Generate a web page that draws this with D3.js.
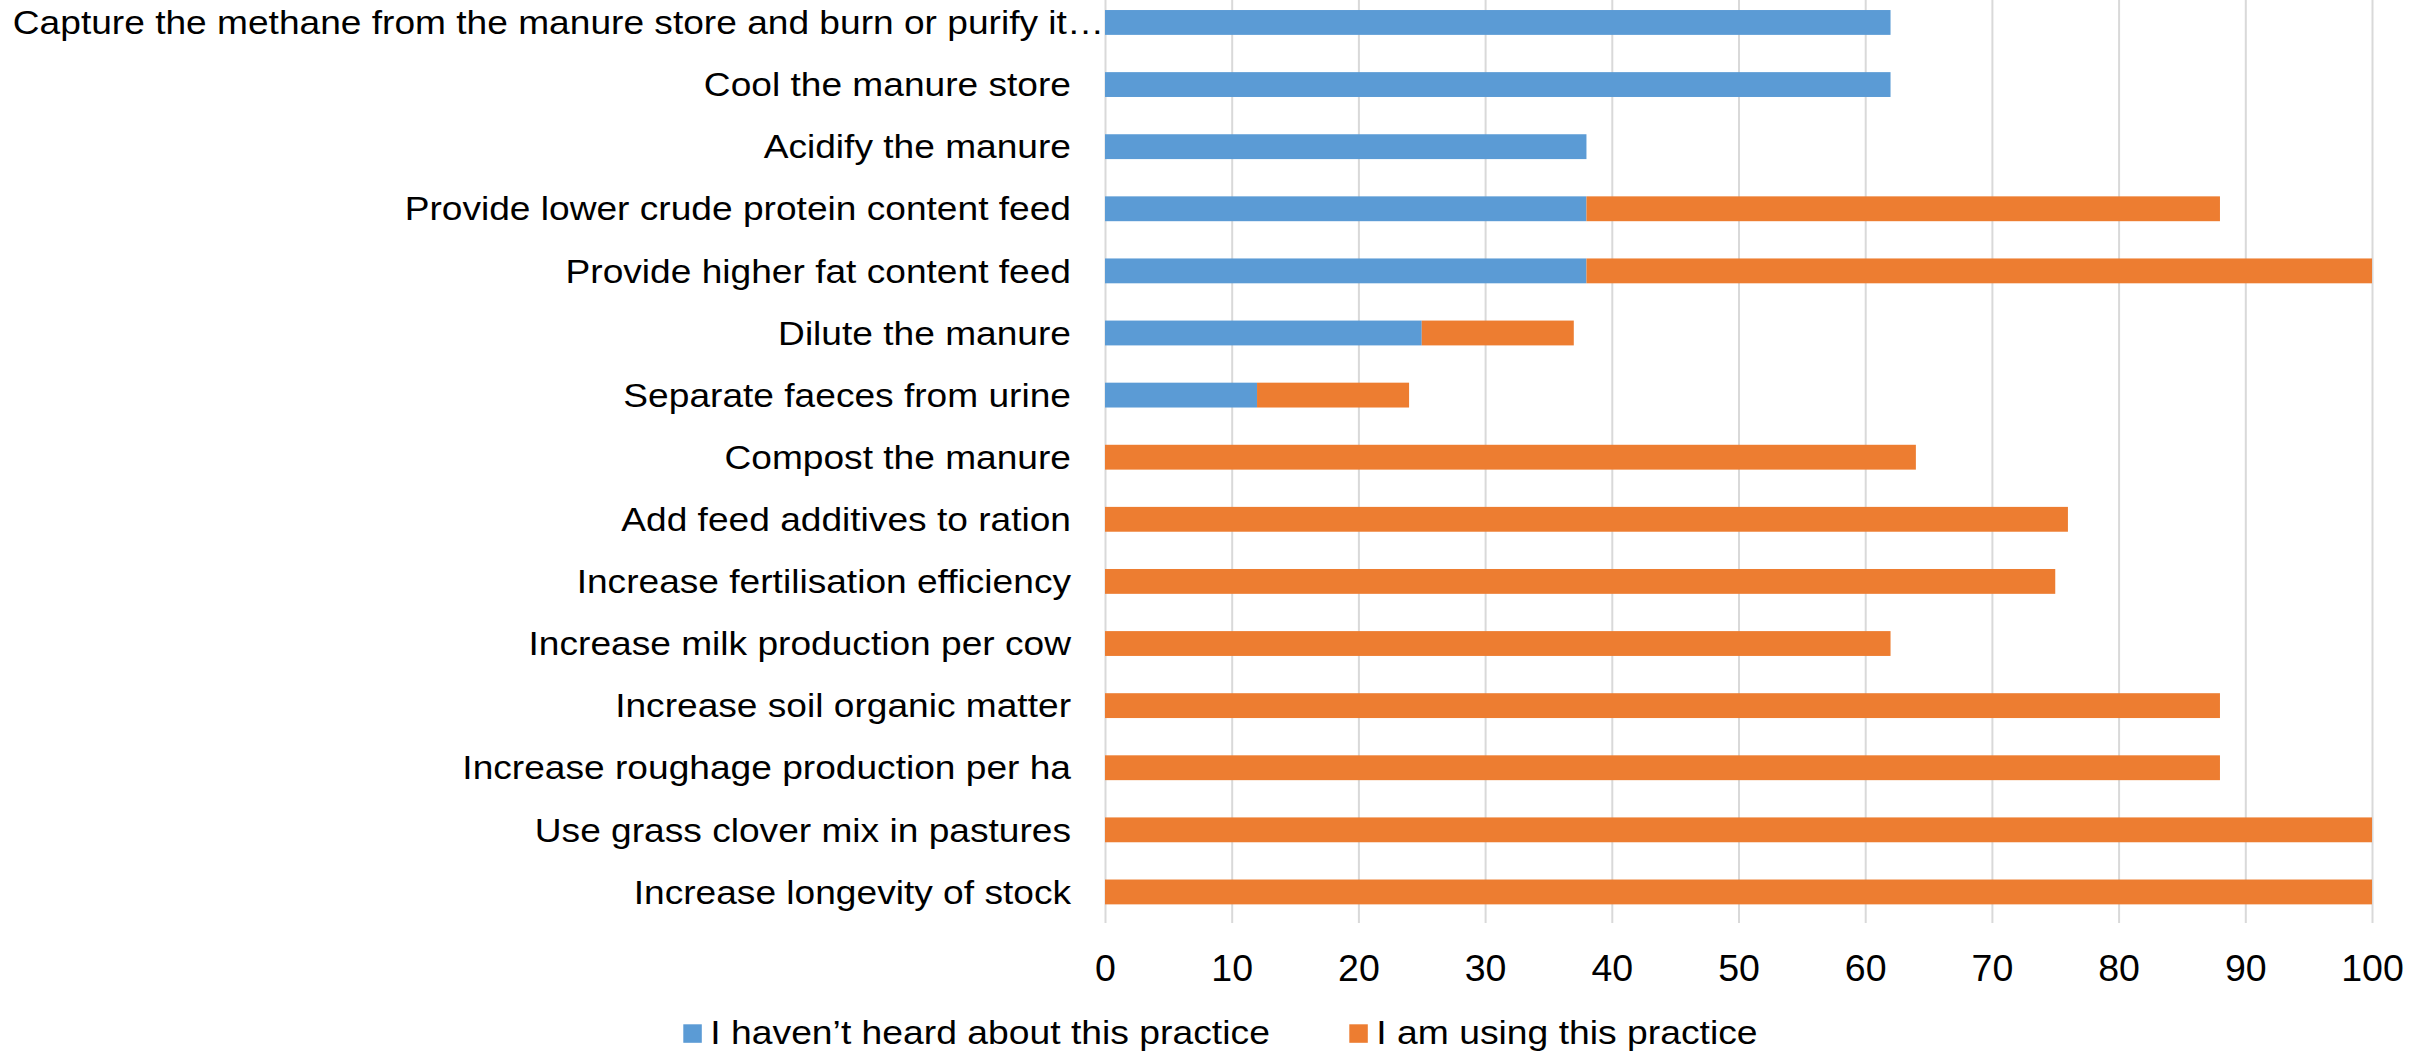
<!doctype html>
<html lang="en">
<head>
  <meta charset="utf-8">
  <title>Emission reduction practices</title>
  <script src="https://d3js.org/d3.v7.min.js"></script>
  <style>
    body { margin: 0; background: #fff; }
    text { font-family: "Liberation Sans", Arial, sans-serif; fill: #000; }
  </style>
</head>
<body>
  <div id="my_chart"></div>
<script>
  // data
  const categories = [
    "Capture the methane from the manure store and burn or purify it…",
    "Cool the manure store",
    "Acidify the manure",
    "Provide lower crude protein content feed",
    "Provide higher fat content feed",
    "Dilute the manure",
    "Separate faeces from urine",
    "Compost the manure",
    "Add feed additives to ration",
    "Increase fertilisation efficiency",
    "Increase milk production per cow",
    "Increase soil organic matter",
    "Increase roughage production per ha",
    "Use grass clover mix in pastures",
    "Increase longevity of stock"
  ];
  const not_heard = [62, 62, 38, 38, 38, 25, 12, 0, 0, 0, 0, 0, 0, 0, 0];
  const using_it = [0, 0, 0, 50, 62, 12, 12, 64, 76, 75, 62, 88, 88, 100, 100];
  const series_names = ["I haven’t heard about this practice", "I am using this practice"];
  const x_ticks = [0, 10, 20, 30, 40, 50, 60, 70, 80, 90, 100];

  const width = 2430;
  const height = 1053;
  const plot = {left: 1105, right: 2372, top: -8.6, bottom: 923};
  const colors = ["#5B9BD5", "#ED7D31"];
  const label_stretch = 1.125; // labels in the source are a bit wider than plain Arial
  const legend_stretch = 1.13;

  const rows = categories.map((c, i) => ({cat: c, a: not_heard[i], b: using_it[i]}));
  const stacked = d3.stack().keys(["a", "b"])(rows);

  const x = d3.scaleLinear()
    .domain([0, 100])
    .range([plot.left, plot.right]);
  const y = d3.scaleBand()
    .domain(categories)
    .range([plot.top, plot.bottom])
    .paddingInner(0.6)
    .paddingOuter(0.3);

  const chart = d3.select('#my_chart').append('svg')
    .attr('width', width)
    .attr('height', height)
    .style('display', 'block');

  // vertical gridlines + x tick labels
  const x_axis = chart.append('g')
    .attr('transform', 'translate(0,' + plot.bottom + ')')
    .call(d3.axisBottom(x)
      .tickValues(x_ticks)
      .tickFormat(d3.format('d'))
      .tickSize(-(plot.bottom - plot.top))
      .tickPadding(31));
  x_axis.select('.domain').remove();
  x_axis.selectAll('.tick line')
    .attr('stroke', '#D9D9D9')
    .attr('stroke-width', 2);
  x_axis.selectAll('.tick text')
    .style('font-size', '37.5px')
    .attr('fill', '#000');

  // category labels (the truncated first one runs right up to the axis)
  const y_axis = chart.append('g')
    .attr('transform', 'translate(' + plot.left + ',0)')
    .call(d3.axisLeft(y).tickSize(0));
  y_axis.select('.domain').remove();
  y_axis.selectAll('.tick text')
    .attr('x', 0)
    .attr('dy', '0.355em')
    .attr('transform', (d, i) => 'translate(' + (i === 0 ? -1 : -34) + ',0) scale(' + label_stretch + ',1)')
    .style('font-size', '33px')
    .attr('fill', '#000');

  // bars
  chart.append('g')
    .selectAll('g')
    .data(stacked)
    .enter()
      .append('g')
        .attr('fill', (d, i) => colors[i])
      .selectAll('rect')
      .data((d) => d.filter((p) => p[1] > p[0]))
      .enter()
        .append('rect')
          .attr('x', (d) => x(d[0]))
          .attr('y', (d) => y(d.data.cat))
          .attr('width', (d) => x(d[1]) - x(d[0]))
          .attr('height', y.bandwidth());

  // legend
  const legend_x = [683.3, 1349.3];
  const legend = chart.append('g')
    .selectAll('g')
    .data(series_names)
    .enter()
      .append('g')
        .attr('transform', (d, i) => 'translate(' + legend_x[i] + ',1024.3)');
  legend.append('rect')
    .attr('width', 18.5)
    .attr('height', 18.5)
    .attr('fill', (d, i) => colors[i]);
  legend.append('text')
    .attr('transform', 'translate(27,20) scale(' + legend_stretch + ',1)')
    .style('font-size', '33px')
    .text((d) => d);
</script>
</body>
</html>
